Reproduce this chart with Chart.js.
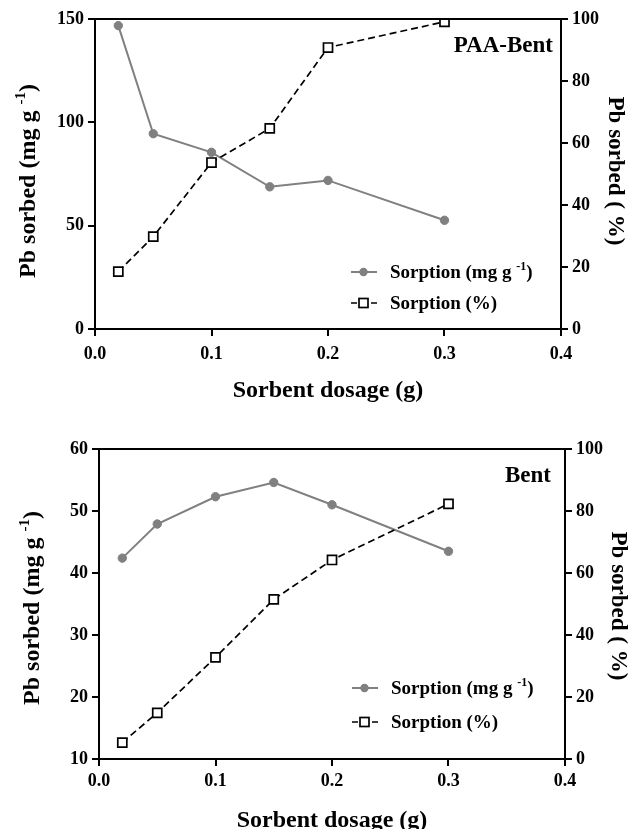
<!DOCTYPE html>
<html><head><meta charset="utf-8">
<script src="https://cdn.jsdelivr.net/npm/chart.js@4/dist/chart.umd.min.js"></script>
<style>
html,body{margin:0;padding:0;background:#fff;overflow:hidden;}
.wrap{position:absolute;left:0;width:632px;}
#w1{top:0;height:405px;}
#w2{top:410px;height:419px;}
</style></head><body>
<div class="wrap" id="w1"><canvas id="c1"></canvas></div>
<div class="wrap" id="w2"><canvas id="c2"></canvas></div>
<script>
// ---- data ----
const dosage = [0.02, 0.05, 0.1, 0.15, 0.2, 0.3];
const paaBentMg = [146.8, 94.5, 85.5, 68.8, 71.9, 52.6];
const paaBentPct = [18.5, 29.8, 53.7, 64.7, 90.8, 99.1];
const bentMg = [42.4, 47.9, 52.3, 54.6, 51.0, 43.5];
const bentPct = [5.3, 14.9, 32.8, 51.5, 64.2, 82.3];
const xTickValues = [0.0, 0.1, 0.2, 0.3, 0.4];
const legendMg = [['Sorption (mg g ', false], ['-1', true], [')', false]];
const legendPct = [['Sorption (%)', false]];
const yLeftTitle = [['Pb sorbed (mg g ', false], ['-1', true], [')', false]];
const yRightTitle = [['Pb sorbed ( %)', false]];
const xTitle = [['Sorbent dosage (g)', false]];

const FAM = '"Liberation Serif", "Times New Roman", serif';
const GRAY = '#808080';

function drawParts(ctx, parts, x, y, size, align) {
  let w = 0;
  const items = parts.map(([t, sup]) => {
    const fs = sup ? Math.round(size * 0.62) : size;
    ctx.font = `bold ${fs}px ${FAM}`;
    const m = ctx.measureText(t).width;
    w += m;
    return {t, sup, fs, m};
  });
  let cx = align === 'center' ? x - w / 2 : (align === 'right' ? x - w : x);
  ctx.textAlign = 'left';
  ctx.textBaseline = 'alphabetic';
  ctx.fillStyle = '#000';
  for (const it of items) {
    ctx.font = `bold ${it.fs}px ${FAM}`;
    ctx.fillText(it.t, cx, it.sup ? y - size * 0.42 : y);
    cx += it.m;
  }
}

const decor = {
  id: 'decor',
  afterDraw(chart, args, o) {
    const ctx = chart.ctx, a = chart.chartArea;
    ctx.save();
    // top border of the frame
    ctx.strokeStyle = '#000'; ctx.lineWidth = 2;
    ctx.beginPath(); ctx.moveTo(a.left - 1, a.top); ctx.lineTo(a.right + 1, a.top); ctx.stroke();
    // panel label
    drawParts(ctx, [[o.label, false]], o.labelX, o.labelY + 0.33 * 23, 23, 'right');
    // legend
    const lx0 = o.legX, lx1 = o.legX + 26, mx = o.legX + 12.5;
    ctx.lineWidth = 2; ctx.strokeStyle = GRAY; ctx.setLineDash([]);
    ctx.beginPath(); ctx.moveTo(lx0, o.legY1); ctx.lineTo(lx1, o.legY1); ctx.stroke();
    ctx.fillStyle = GRAY; ctx.beginPath(); ctx.arc(mx, o.legY1, 4.2, 0, Math.PI * 2); ctx.fill();
    ctx.strokeStyle = '#000'; ctx.lineWidth = 1.7; ctx.setLineDash([6, 4]);
    ctx.beginPath(); ctx.moveTo(lx0, o.legY2); ctx.lineTo(lx1, o.legY2); ctx.stroke();
    ctx.setLineDash([]);
    ctx.fillStyle = '#fff'; ctx.fillRect(mx - 4.5, o.legY2 - 4.5, 9, 9);
    ctx.strokeRect(mx - 4.5, o.legY2 - 4.5, 9, 9);
    drawParts(ctx, legendMg, o.legX + 39, o.legY1 + 0.33 * 19, 19, 'left');
    drawParts(ctx, legendPct, o.legX + 39, o.legY2 + 0.33 * 19, 19, 'left');
    // axis titles
    drawParts(ctx, xTitle, (a.left + a.right) / 2, o.xTitleY + 0.33 * 24, 24, 'center');
    ctx.save(); ctx.translate(o.yLX, o.yLY); ctx.rotate(-Math.PI / 2);
    drawParts(ctx, yLeftTitle, 0, 0.33 * 24, 24, 'center'); ctx.restore();
    ctx.save(); ctx.translate(o.yRX, o.yRY); ctx.rotate(Math.PI / 2);
    drawParts(ctx, yRightTitle, 0, 0.33 * 23, 23, 'center'); ctx.restore();
    ctx.restore();
  }
};

function makeChart(id, H, box, mg, pct, yMin, yMax, yStep, xPad, deco) {
  const tickFont = {family: FAM, size: 18, weight: 'bold'};
  const axisCommon = {
    grid: {drawOnChartArea: false, drawTicks: true, tickLength: 7, color: '#000', lineWidth: 2},
    border: {display: true, color: '#000', width: 2}
  };
  return new Chart(document.getElementById(id), {
    type: 'line',
    data: {
      datasets: [
        {label: 'Sorption (%)', data: dosage.map((x, i) => ({x, y: pct[i]})), yAxisID: 'y1',
         borderColor: '#000', borderWidth: 1.7, borderDash: [7, 4], fill: false, tension: 0,
         pointStyle: 'rect', pointRadius: 6.4, pointBackgroundColor: '#fff', pointBorderColor: '#000',
         pointBorderWidth: 1.7, order: 0},
        {label: 'Sorption (mg g-1)', data: dosage.map((x, i) => ({x, y: mg[i]})), yAxisID: 'y',
         borderColor: GRAY, borderWidth: 2, fill: false, tension: 0,
         pointStyle: 'circle', pointRadius: 4.2, pointBackgroundColor: GRAY, pointBorderColor: GRAY,
         pointBorderWidth: 1, order: 1}
      ]
    },
    options: {
      responsive: true, maintainAspectRatio: false, animation: false, devicePixelRatio: 1,
      layout: {padding: {top: box.top, left: 0, right: 0, bottom: 0}},
      plugins: {legend: {display: false}, tooltip: {enabled: false}, decor: deco},
      scales: {
        x: Object.assign({type: 'linear', min: 0, max: 0.4, position: 'bottom',
          afterFit: s => { s.height = H - box.bottom; },
          afterBuildTicks: s => { s.ticks = xTickValues.map(v => ({value: v})); },
          ticks: {callback: v => Number(v).toFixed(1), font: tickFont, color: '#000', padding: xPad, maxRotation: 0, autoSkip: false}
        }, axisCommon),
        y: Object.assign({type: 'linear', position: 'left', min: yMin, max: yMax,
          afterFit: s => { s.width = box.left; },
          ticks: {stepSize: yStep, font: tickFont, color: '#000', padding: 4}
        }, axisCommon),
        y1: Object.assign({type: 'linear', position: 'right', min: 0, max: 100,
          afterFit: s => { s.width = 632 - box.right; },
          ticks: {stepSize: 20, font: tickFont, color: '#000', padding: 4}
        }, axisCommon)
      }
    },
    plugins: [decor]
  });
}

makeChart('c1', 405, {left: 95, right: 561, top: 19, bottom: 329}, paaBentMg, paaBentPct, 0, 150, 50, 8,
  {label: 'PAA-Bent', labelX: 553, labelY: 44, legX: 351, legY1: 272, legY2: 303,
   xTitleY: 389, yLX: 27, yLY: 181, yRX: 617, yRY: 171});
makeChart('c2', 419, {left: 99, right: 565, top: 39, bottom: 349}, bentMg, bentPct, 10, 60, 10, 5,
  {label: 'Bent', labelX: 551, labelY: 64, legX: 352, legY1: 278, legY2: 312,
   xTitleY: 409, yLX: 31, yLY: 198, yRX: 620, yRY: 196});
</script>
</body></html>
